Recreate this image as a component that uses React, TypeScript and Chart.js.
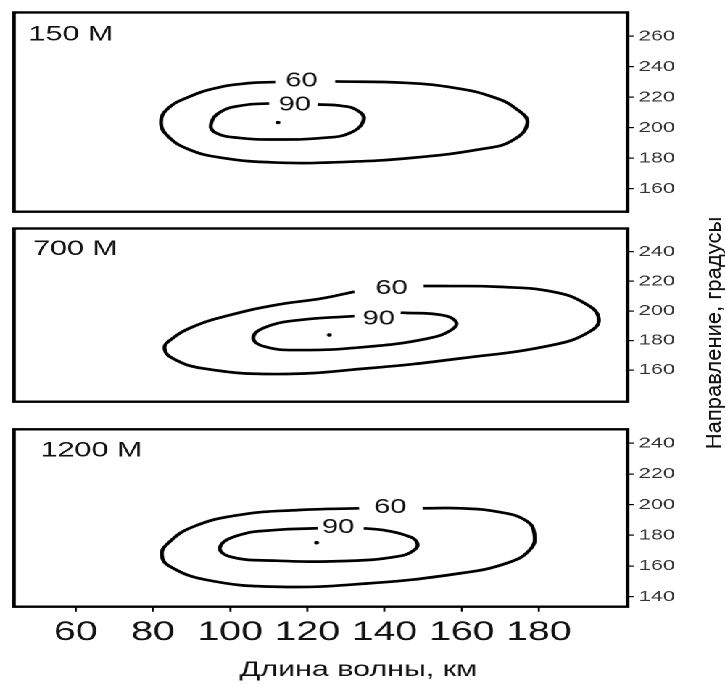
import React, { useEffect, useRef } from 'react';
import { Chart, registerables } from 'chart.js';

Chart.register(...registerables);

// ---------------- data ----------------
const xTicks = [60, 80, 100, 120, 140, 160, 180];
const xMin = 44;
const xMax = 203;

// 150 M
const yTicks150 = [160, 180, 200, 220, 240, 260];
const yRange150 = [145, 275.5];
const c150_60 = [
  [127.2, 230.3], [145.3, 229.4], [158.4, 226], [168, 220.2], [174, 212.6], [177, 203],
  [172.8, 191.2], [164.5, 185.8], [147.7, 180.4], [129.8, 177.6], [111.9, 177.2],
  [97.6, 180.4], [89.3, 185.8], [83.9, 194.4], [82.1, 203.6], [83.9, 212.6],
  [89.3, 220.2], [96.4, 226], [104.8, 229.2], [111.7, 229.9],
];
const c150_90 = [
  [122.7, 215.2], [128.6, 214.4], [132.8, 211.6], [134.6, 205.2], [131, 196.5],
  [123.9, 193.3], [111.9, 192.3], [102.4, 193.3], [96.4, 196.5], [95, 201.9],
  [97.6, 210.5], [103.6, 214.8], [110.1, 215.9],
];
const peak150 = [112.4, 203.4];
const labels150: [string, number, number][] = [['60', 118.5, 230.6], ['90', 116.7, 214.8]];

// 700 M
const yTicks700 = [160, 180, 200, 220, 240];
const yRange700 = [138.6, 255.7];
const c700_60 = [
  [150.1, 216.8], [154.9, 216.8], [169.2, 216.3], [183.5, 213], [191.9, 205.1], [195.5, 195],
  [193.1, 185.9], [183.5, 176.9], [159.7, 167.9], [135.8, 161.2], [111.9, 157.3],
  [92.8, 161.2], [85.1, 167.9], [83, 174.7], [84.5, 180.3], [90.4, 189.3], [100, 197.2],
  [111.9, 204], [123.9, 208.5], [132.2, 213],
];
const c700_90 = [
  [144.2, 198.8], [154.9, 197.2], [158.5, 192.7], [157.3, 187.1], [151.3, 181.4],
  [135.8, 175.8], [117.9, 173.5], [109, 175.8], [106, 182.1], [109.5, 189.3],
  [117.9, 193.8], [132.2, 196.5],
];
const peak700 = [125.7, 183.7];
const labels700: [string, number, number][] = [['60', 141.8, 215.3], ['90', 138.5, 194.4]];

// 1200 M
const yTicks1200 = [140, 160, 180, 200, 220, 240];
const yRange1200 = [133.5, 249.1];
const c1200_60 = [
  [149.9, 197.6], [159.7, 197.6], [169.2, 195.4], [176.4, 190], [178.8, 181.3],
  [177.6, 170.4], [171.6, 161.8], [159.7, 155.3], [135.8, 148.7], [111.9, 146.5],
  [94, 150.9], [84.5, 159.6], [82.3, 167.2], [83.9, 174.8], [90.4, 185.6],
  [102.4, 193.3], [117.9, 196.5], [133.4, 197.6],
];
const c1200_90 = [
  [134.6, 184.6], [139.4, 183.5], [145.3, 180.2], [148.3, 175.9], [147.7, 170.4],
  [143, 166.1], [129.8, 163.3], [111.9, 163.5], [100, 166.1], [97.4, 172.6],
  [102.4, 180.2], [111.9, 183.5], [122.7, 184.6],
];
const peak1200 = [122.4, 175.2];
const labels1200: [string, number, number][] = [['60', 141.5, 198.1], ['90', 128, 185.1]];

const panelNames = ['150 M', '700 M', '1200 M'];
const xTitle = 'Длина волны, км';
const yTitle = 'Направление, градусы';

// ---------------- layout / style ----------------
const S = 1.45; // horizontal stretch of the figure
const FIG_W = 726;
const FIG_H = 685;
const LW = FIG_W / S;
const FRAME_LEFT = 14;
const FRAME_RIGHT = 627;
const FONT = '"Liberation Sans", Arial, Helvetica, sans-serif';

type Panel = {
  name: string;
  top: number;
  bottom: number;
  yRange: number[];
  yTicks: number[];
  outer: number[][];
  inner: number[][];
  peak: number[];
  labels: [string, number, number][];
  nameX: number;
  nameBase: number;
  showX: boolean;
};

const panels: Panel[] = [
  { name: panelNames[0], top: 9.5, bottom: 211.7, yRange: yRange150, yTicks: yTicks150, outer: c150_60, inner: c150_90, peak: peak150, labels: labels150, nameX: 28.5, nameBase: 28.2, showX: false },
  { name: panelNames[1], top: 228.5, bottom: 401.7, yRange: yRange700, yTicks: yTicks700, outer: c700_60, inner: c700_90, peak: peak700, labels: labels700, nameX: 33, nameBase: 26.5, showX: false },
  { name: panelNames[2], top: 429.3, bottom: 606.7, yRange: yRange1200, yTicks: yTicks1200, outer: c1200_60, inner: c1200_90, peak: peak1200, labels: labels1200, nameX: 40.5, nameBase: 27.4, showX: true },
];

function makePlugin(p: Panel) {
  return {
    id: 'frameAndText',
    afterDatasetsDraw(chart: any) {
      const { ctx, chartArea: a, scales } = chart;
      ctx.save();
      // frame
      ctx.lineWidth = 2.4;
      ctx.strokeStyle = '#000';
      ctx.strokeRect(a.left, a.top, a.right - a.left, a.bottom - a.top);
      // contour labels
      ctx.fillStyle = '#111';
      ctx.font = `20px ${FONT}`;
      ctx.textAlign = 'center';
      ctx.textBaseline = 'middle';
      for (const [t, x, y] of p.labels) {
        ctx.fillText(t, scales.x.getPixelForValue(x), scales.y.getPixelForValue(y));
      }
      // panel name
      ctx.textAlign = 'left';
      ctx.textBaseline = 'alphabetic';
      ctx.font = `21px ${FONT}`;
      ctx.fillText(p.name, p.nameX / S, a.top + p.nameBase);
      if (p.showX) {
        // x axis title
        ctx.textAlign = 'center';
        ctx.font = `21px ${FONT}`;
        ctx.fillText(xTitle, (a.left + a.right) / 2 + 37.5 / S, 676);
        // y axis title (rotated, unstretched)
        ctx.save();
        ctx.translate(713.5 / S, 333);
        ctx.scale(1 / S, 1);
        ctx.rotate(-Math.PI / 2);
        ctx.textBaseline = 'middle';
        ctx.font = `22px ${FONT}`;
        ctx.fillText(yTitle, 0, 0);
        ctx.restore();
      }
      ctx.restore();
    },
  };
}

function PanelChart({ p }: { p: Panel }) {
  const ref = useRef<HTMLCanvasElement | null>(null);
  useEffect(() => {
    if (!ref.current) return;
    const toXY = (arr: number[][]) => arr.map(([x, y]) => ({ x, y }));
    const lineDs = (arr: number[][]) => ({
      data: toXY(arr),
      borderColor: '#000',
      borderWidth: 2.7,
      tension: 0.45,
      pointRadius: 0,
      fill: false,
      showLine: true,
    });
    const chart = new Chart(ref.current, {
      type: 'line',
      data: {
        datasets: [
          lineDs(p.outer) as any,
          lineDs(p.inner) as any,
          {
            data: [{ x: p.peak[0], y: p.peak[1] }],
            showLine: false,
            pointRadius: 1.7,
            pointBackgroundColor: '#000',
            pointBorderWidth: 0,
            borderColor: '#000',
          } as any,
        ],
      },
      options: {
        responsive: true,
        maintainAspectRatio: false,
        animation: false,
        devicePixelRatio: 2,
        events: [],
        layout: {
          padding: {
            left: FRAME_LEFT / S,
            right: 0,
            top: p.top,
            bottom: p.showX ? 0 : FIG_H - p.bottom,
          },
        },
        plugins: { legend: { display: false }, tooltip: { enabled: false } },
        scales: {
          x: {
            type: 'linear',
            min: xMin,
            max: xMax,
            display: p.showX,
            afterBuildTicks: (s: any) => {
              s.ticks = xTicks.map((v) => ({ value: v }));
            },
            afterFit: (s: any) => {
              s.height = p.showX ? FIG_H - p.bottom : 0;
            },
            grid: { drawOnChartArea: false, drawTicks: true, tickLength: 5, color: '#000', lineWidth: 1.4 },
            border: { display: false },
            ticks: {
              padding: 4.6,
              color: '#111',
              autoSkip: false,
              maxRotation: 0,
              font: { family: FONT, size: 27 },
            },
          },
          y: {
            type: 'linear',
            position: 'right',
            min: p.yRange[0],
            max: p.yRange[1],
            afterBuildTicks: (s: any) => {
              s.ticks = p.yTicks.map((v) => ({ value: v }));
            },
            afterFit: (s: any) => {
              s.width = (FIG_W - FRAME_RIGHT) / S;
            },
            grid: { drawOnChartArea: false, drawTicks: true, tickLength: 6 / S, color: '#000', lineWidth: 1.2 },
            border: { display: false },
            ticks: {
              padding: 5 / S,
              color: '#333',
              font: { family: FONT, size: 15 },
            },
          },
        },
      } as any,
      plugins: [makePlugin(p)],
    });
    return () => chart.destroy();
  }, [p]);
  return (
    <div style={{ position: 'absolute', left: 0, top: 0, width: LW, height: FIG_H }}>
      <canvas ref={ref} />
    </div>
  );
}

export default function App() {
  return (
    <div style={{ position: 'absolute', left: 0, top: 0, width: FIG_W, height: FIG_H, overflow: 'hidden', background: '#fff' }}>
      <div
        style={{
          position: 'absolute',
          left: 0,
          top: 0,
          width: LW,
          height: FIG_H,
          transform: `scaleX(${S})`,
          transformOrigin: '0 0',
        }}
      >
        {panels.map((p, i) => (
          <PanelChart key={i} p={p} />
        ))}
      </div>
    </div>
  );
}
